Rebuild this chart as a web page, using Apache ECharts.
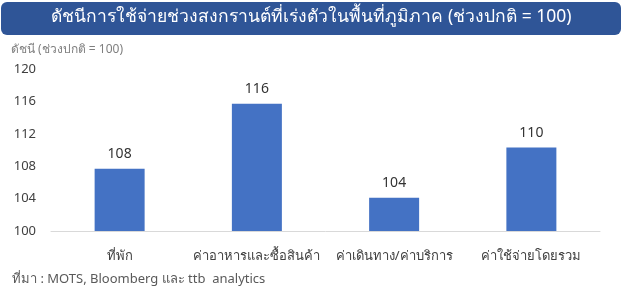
<!DOCTYPE html>
<html>
<head>
<meta charset="utf-8">
<title>ดัชนีการใช้จ่าย</title>
<script src="https://cdn.jsdelivr.net/npm/echarts@6/dist/echarts.min.js"></script>
<style>
  html, body { margin: 0; padding: 0; background: #fff; }
  #chart { width: 623px; height: 293px; }
</style>
</head>
<body>
<div id="chart"></div>
<script>
// ข้อมูล
var categories = ['ที่พัก', 'ค่าอาหารและซื้อสินค้า', 'ค่าเดินทาง/ค่าบริการ', 'ค่าใช้จ่ายโดยรวม'];
var values = [107.7, 115.7, 104.1, 110.3];
var yTicks = [100, 104, 108, 112, 116, 120];

var titleText = 'ดัชนีการใช้จ่ายช่วงสงกรานต์ที่เร่งตัวในพื้นที่ภูมิภาค (ช่วงปกติ = 100)';
var sourceText = 'ที่มา : MOTS, Bloomberg และ ttb  analytics';

var font = 'Noto Sans, Roboto, sans-serif';

var chart = echarts.init(document.getElementById('chart'));
chart.setOption({
    animation: false,
    textStyle: { fontFamily: font },
    graphic: [
        {
            type: 'rect',
            left: 1, top: 2,
            shape: { width: 620, height: 33, r: 6 },
            style: { fill: '#2f5597' }
        },
        {
            type: 'text',
            left: 'center', top: 8,
            style: { text: titleText, fill: '#fff', font: '17.5px ' + font }
        },
        {
            type: 'text',
            left: 12, top: 273,
            style: { text: sourceText, fill: '#595959', font: '13px ' + font }
        }
    ],
    grid: { left: 51, right: 23, top: 69, bottom: 62 },
    xAxis: {
        type: 'category',
        data: categories,
        axisTick: { show: false },
        axisLine: { lineStyle: { color: '#d9d9d9' } },
        axisLabel: { color: '#404040', fontSize: 13, margin: 19, interval: 0 }
    },
    yAxis: {
        type: 'value',
        min: yTicks[0],
        max: yTicks[yTicks.length - 1],
        interval: 4,
        name: 'ดัชนี (ช่วงปกติ = 100)',
        nameLocation: 'end',
        nameGap: 13,
        nameTextStyle: { color: '#7f7f7f', fontSize: 12, align: 'left', padding: [0, 0, 0, -40] },
        splitLine: { show: false },
        axisLine: { show: false },
        axisTick: { show: false },
        axisLabel: { color: '#404040', fontSize: 13, margin: 15 }
    },
    series: [{
        type: 'bar',
        data: values,
        barWidth: 50,
        itemStyle: { color: '#4472c4' },
        label: {
            show: true,
            position: 'top',
            distance: 8,
            color: '#333',
            fontSize: 14,
            formatter: function (p) { return Math.round(p.value); }
        }
    }]
});
</script>
</body>
</html>
